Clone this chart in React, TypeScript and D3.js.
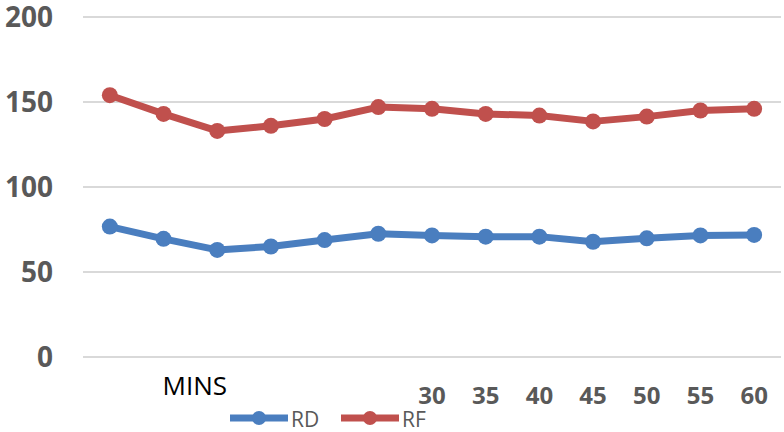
import React from "react";
import * as d3 from "d3";

const categories = ["0", "5", "10", "15", "20", "25", "30", "35", "40", "45", "50", "55", "60"];
const tickLabels = ["", "", "", "", "", "", "30", "35", "40", "45", "50", "55", "60"];
const rdValues = [76.7, 69.5, 63, 65, 68.8, 72.5, 71.5, 70.8, 70.8, 67.8, 69.8, 71.5, 71.8];
const rfValues = [154, 143, 133, 136, 140, 147, 146, 143, 142, 138.6, 141.4, 145, 146];
const yTicks = [0, 50, 100, 150, 200];
const seriesNames = ["RD", "RF"];

const W = 784;
const H = 432;
const BLUE = "#4a7ebf";
const RED = "#c0504d";
const GRAY = "#595959";
const FONT = "'Open Sans', 'Liberation Sans', sans-serif";

export default function App() {
  const x = d3.scaleBand<string>().domain(categories).range([83, 781]);
  const cx = (c: string) => (x(c) as number) + x.bandwidth() / 2;
  const y = d3.scaleLinear().domain([0, 200]).range([357, 17]);
  const line = d3
    .line<number>()
    .x((_, i) => cx(categories[i]))
    .y((d) => y(d));

  const series = [
    { name: seriesNames[0], values: rdValues, color: BLUE },
    { name: seriesNames[1], values: rfValues, color: RED },
  ];

  const legendItems = [
    { name: seriesNames[0], color: BLUE, x0: 230 },
    { name: seriesNames[1], color: RED, x0: 341 },
  ];

  return (
    <svg
      width={W}
      height={H}
      style={{ position: "absolute", left: 0, top: 0, background: "#fff" }}
    >
      {yTicks.map((t) => (
        <g key={t}>
          <line x1={83} x2={781} y1={y(t)} y2={y(t)} stroke="#d9d9d9" strokeWidth={2} />
          <text
            x={53}
            y={y(t) + 10}
            textAnchor="end"
            fontFamily={FONT}
            fontWeight="bold"
            fontSize={28}
            fill={GRAY}
          >
            {t}
          </text>
        </g>
      ))}
      {series.map((s) => (
        <g key={s.name}>
          <path d={line(s.values) || ""} fill="none" stroke={s.color} strokeWidth={7} strokeLinejoin="round" />
          {s.values.map((v, i) => (
            <circle key={i} cx={cx(categories[i])} cy={y(v)} r={8} fill={s.color} />
          ))}
        </g>
      ))}
      {categories.map((c, i) =>
        tickLabels[i] ? (
          <text
            key={c}
            x={cx(c)}
            y={404}
            textAnchor="middle"
            fontFamily={FONT}
            fontWeight="bold"
            fontSize={24}
            fill={GRAY}
          >
            {tickLabels[i]}
          </text>
        ) : null
      )}
      <text x={cx(categories[1]) - 1} y={395} fontFamily={FONT} fontWeight={500} fontSize={26} fill="#000">
        MINS
      </text>
      {legendItems.map((l) => (
        <g key={l.name}>
          <line x1={l.x0} x2={l.x0 + 58} y1={418} y2={418} stroke={l.color} strokeWidth={7} />
          <circle cx={l.x0 + 29} cy={418} r={7} fill={l.color} />
          <text x={l.x0 + 61} y={427} fontFamily={FONT} fontSize={21} fill={GRAY}>
            {l.name}
          </text>
        </g>
      ))}
    </svg>
  );
}
